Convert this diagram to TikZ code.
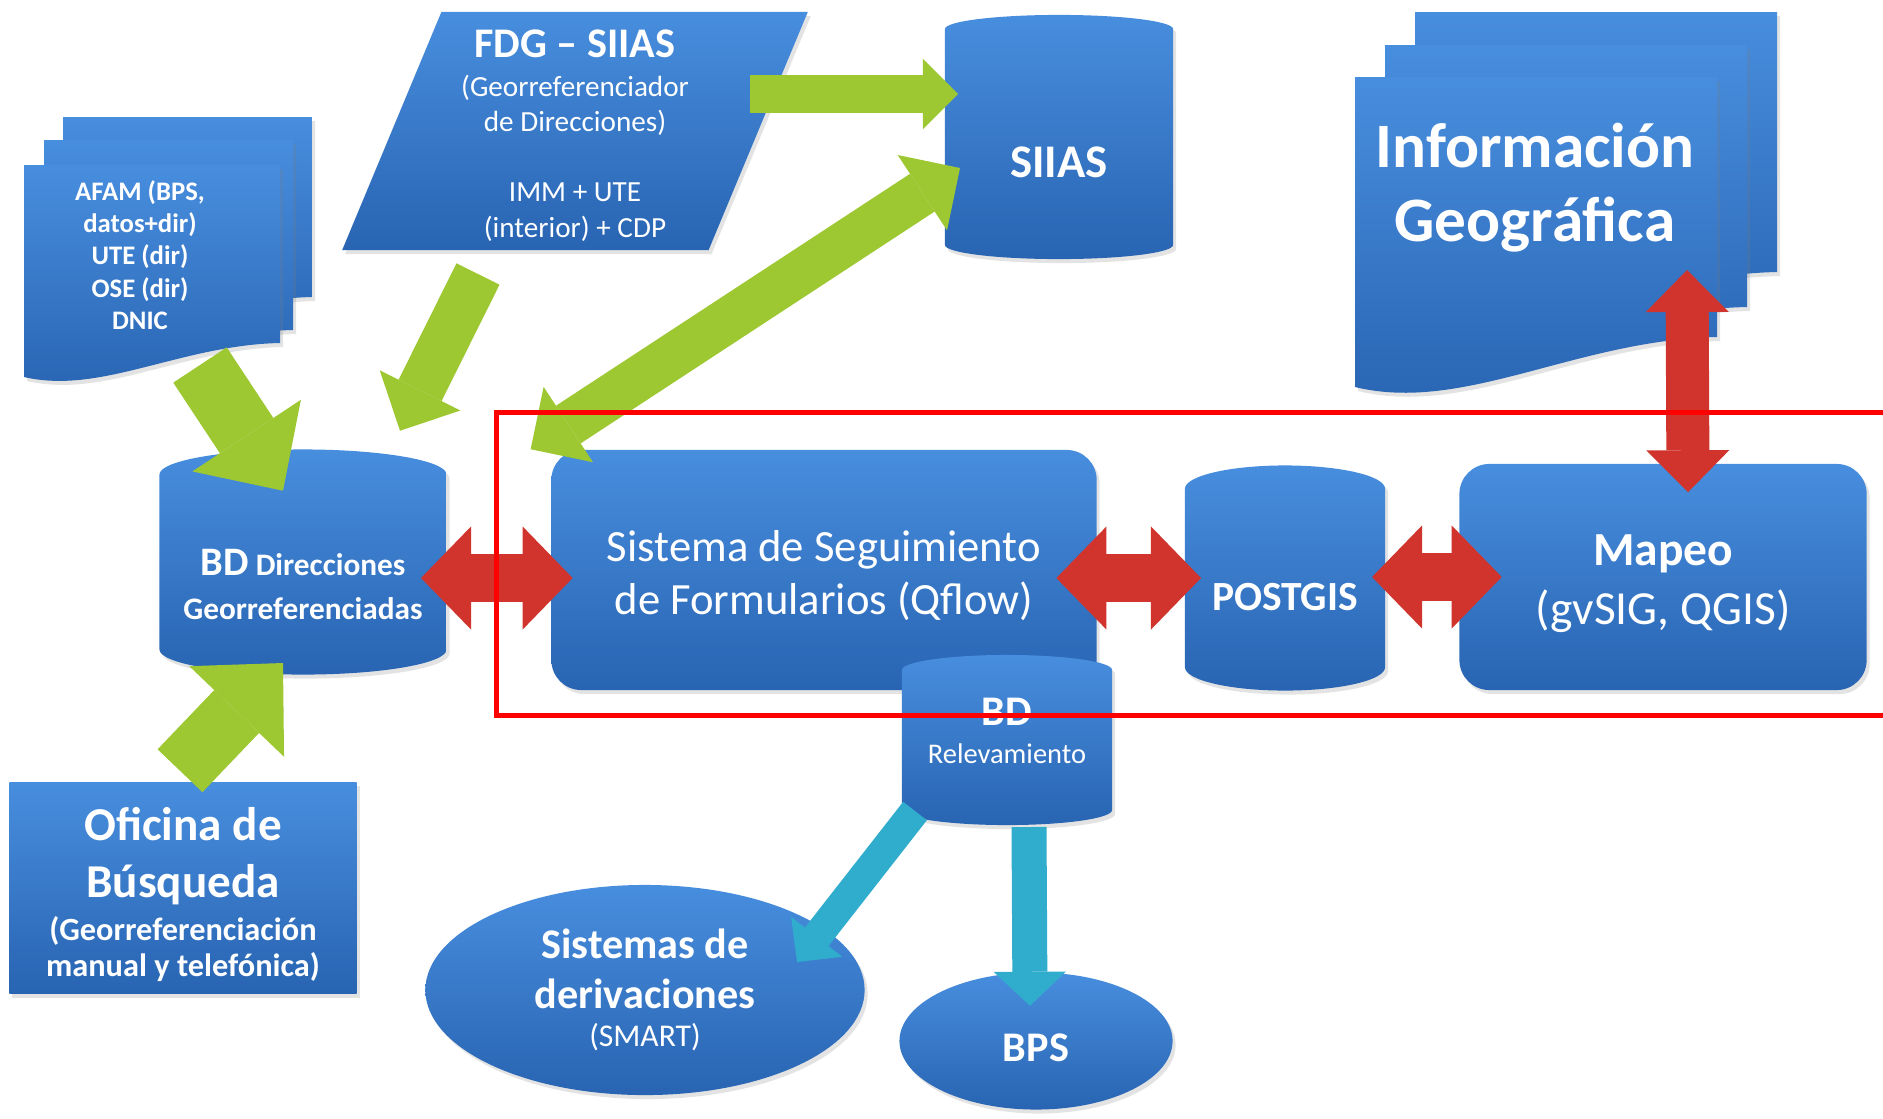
\documentclass[tikz,border=0pt]{standalone}
\usepackage{fontspec}
\setmainfont{Carlito}
\usepackage{tikz}
\usetikzlibrary{arrows.meta}
\usetikzlibrary{shapes.geometric}
\usetikzlibrary{shadows}
\usetikzlibrary{positioning}

\definecolor{bluetop}{RGB}{72,142,222}
\definecolor{bluebot}{RGB}{40,100,178}
\definecolor{grn}{RGB}{158,200,50}
\definecolor{redarr}{RGB}{208,52,44}
\definecolor{cyanarr}{RGB}{48,172,204}
\newcommand{\fsz}[2]{\fontsize{#1}{#2}\selectfont}
\newcommand{\tallstrut}[1]{\rule{0pt}{#1}}
\newcommand{\deepstrut}[1]{\rule[-#1]{0pt}{0pt}}
\lineskiplimit=-\maxdimen
% one sheet of a stacked document: x0 y0 x1 y1 drop
\newcommand{\sheet}[5]{%
  \path[blue body] (#1,#2) -- (#3,#2) -- (#3,#4)
    .. controls ({#3-0.39*(#3-#1)},{#4+0.06*#5}) and ({#1+0.3*(#3-#1)},{#4+1.53*#5}) .. (#1,{#4+#5}) -- cycle;}

\begin{document}
\begin{tikzpicture}[x=0.01cm,y=-0.01cm,
    blue body/.style={top color=bluetop,bottom color=bluebot,draw=none,text=white,inner sep=0pt,
      drop shadow={opacity=0.22,shadow xshift=0.03cm,shadow yshift=-0.04cm}},
    db/.style={blue body,cylinder,shape border rotate=90,aspect=#1,anchor=shape center},
    box/.style={blue body,rectangle,rounded corners=0.3cm},
    ball/.style={blue body,ellipse},
    garrow/.style n args={3}{draw=grn,line width=#1,
      -{Triangle[width=#2,length=#3,line width=0pt]}},
    gdarrow/.style n args={3}{draw=grn,line width=#1,
      {Triangle[width=#2,length=#3,line width=0pt]}-{Triangle[width=#2,length=#3,line width=0pt]}},
    rdarrow/.style n args={3}{draw=redarr,line width=#1,
      {Triangle[width=#2,length=#3,line width=0pt]}-{Triangle[width=#2,length=#3,line width=0pt]}},
    carrow/.style n args={3}{draw=cyanarr,line width=#1,
      -{Triangle[width=#2,length=#3,line width=0pt]}}]

  \fill[white] (0,0) rectangle (1883,1118);
  \useasboundingbox (0,0) rectangle (1883,1118);

  % data sources
  \sheet{63}{117}{312}{297}{34}
  \sheet{44}{140}{293}{330}{34}
  \sheet{24}{165}{280}{343}{34}
  \node[font=\bfseries\fsz{7.6}{9.2},text=white,align=center] (afam) at (140,255)
    {AFAM (BPS,\\datos+dir)\\UTE (dir)\\OSE (dir)\\DNIC};

  \node[blue body,trapezium,trapezium left angle=69,trapezium right angle=111,
    trapezium stretches=true,minimum width=4.66cm,minimum height=2.38cm,
    align=center,font=\fsz{8.3}{10}] (fdg) at (575,131)
    {\tallstrut{10.5pt}{\bfseries\fsz{12}{12}FDG – SIIAS}\\[1pt](Georreferenciador\\de Direcciones)\\[10pt]IMM + UTE\\(interior) + CDP};

  \node[db=0.29,minimum width=2.28cm,minimum height=2.44cm,
    font=\bfseries\fsz{13.3}{16}] (siias) at (1059,137) {\tallstrut{19pt}SIIAS};

  \sheet{1415}{12}{1777}{272}{50}
  \sheet{1385}{45}{1747}{307}{50}
  \sheet{1355}{77}{1717}{337}{50}
  \node[font=\bfseries\fsz{18}{21},text=white,align=center] (info) at (1535,188)
    {Información\\Geográfica};

  % main row
  \node[db=0.21,minimum width=2.87cm,minimum height=2.25cm,align=center,
    font=\bfseries\fsz{8.9}{12.5}] (bddir) at (303,562)
    {\tallstrut{13pt}{\fsz{11.5}{12}BD} Direcciones\\Georreferenciadas};
  \node[box,minimum width=5.45cm,minimum height=2.4cm,align=center,
    font=\fsz{12.7}{15}] (sist) at (824,570) {\tallstrut{12pt}Sistema de Seguimiento\\de Formularios (Qflow)};
  \node[db=0.32,minimum width=2cm,minimum height=2.25cm,
    font=\bfseries\fsz{11.8}{14}] (post) at (1285,578) {\tallstrut{11.6pt}POSTGIS};
  \node[box,minimum width=4.07cm,minimum height=2.26cm,align=center,
    font=\fsz{13.5}{16.8}] (mapeo) at (1663,577) {\tallstrut{12.7pt}{\bfseries Mapeo}\\(gvSIG, QGIS)};
  \node[db=0.19,minimum width=2.1cm,minimum height=1.7cm,align=center,
    font=\fsz{8.1}{10.7}] (relev) at (1007,740) {{\bfseries\fsz{12}{12}BD}\\Relevamiento\deepstrut{9.7pt}};

  % lower part
  \node[blue body,rectangle,minimum width=3.47cm,minimum height=2.11cm,align=center,
    font=\bfseries\fsz{9.2}{10.2}] (ofic) at (183,888)
    {\tallstrut{13pt}{\fsz{13.4}{14}Oficina de}\\[6pt]{\fsz{13.4}{14}Búsqueda}\\[2pt](Georreferenciación\\manual y telefónica)};
  \node[ball,minimum width=4.39cm,minimum height=2.1cm,align=center,
    font=\bfseries\fsz{12}{14.2}] (deriv) at (645,990)
    {Sistemas de\\derivaciones\\[-3.2pt]{\mdseries\fsz{9}{10}(SMART)}};
  \node[ball,minimum width=2.73cm,minimum height=1.37cm,
    font=\bfseries\fsz{12}{14}] (bps) at (1036,1041) {\tallstrut{11.7pt}BPS};

  % block arrows
  \draw[garrow={0.64cm}{1.3cm}{0.66cm}] ([shift={(60,110)}]afam.center) -- ([shift={(-20,42)}]bddir.north);
  \draw[garrow={0.48cm}{0.9cm}{0.45cm}] ([shift={(-97,143)}]fdg.center) -- ([shift={(97,-18)}]bddir.north);
  \draw[garrow={0.38cm}{0.7cm}{0.35cm}] ([shift={(175,-37)}]fdg.center) -- ([shift={(-101,-43)}]siias.shape center);
  \draw[gdarrow={0.45cm}{0.9cm}{0.45cm}] ([shift={(-20,0)}]sist.north west) -- ([shift={(-99,31)}]siias.shape center);
  \draw[garrow={0.62cm}{1.31cm}{0.67cm}] ([shift={(-3,-11)}]ofic.north) -- ([shift={(-20,101)}]bddir.shape center);

  \draw[rdarrow={0.48cm}{1.03cm}{0.5cm}] ([shift={(118,16)}]bddir.shape center) -- ([shift={(22,8)}]sist.west);
  \draw[rdarrow={0.48cm}{1.03cm}{0.5cm}] ([shift={(-41,8)}]sist.east) -- ([shift={(-84,0)}]post.shape center);
  \draw[rdarrow={0.48cm}{1.03cm}{0.5cm}] ([shift={(87,-1)}]post.shape center) -- ([shift={(43,0)}]mapeo.west);
  \draw[rdarrow={0.43cm}{0.83cm}{0.42cm}] ([shift={(152,82)}]info.center) -- ([shift={(25,29)}]mapeo.north);

  \draw[carrow={0.3cm}{0.65cm}{0.32cm}] ([shift={(-92,71)}]relev.shape center) -- ([shift={(152,-28)}]deriv.center);
  \draw[carrow={0.35cm}{0.72cm}{0.34cm}] ([shift={(22,87)}]relev.shape center) -- ([shift={(-6,34)}]bps.north);

  % highlighted area
  \draw[red,line width=0.05cm] (1890,412) -- (496,412) -- (496,715) -- (1890,715);
\end{tikzpicture}
\end{document}
